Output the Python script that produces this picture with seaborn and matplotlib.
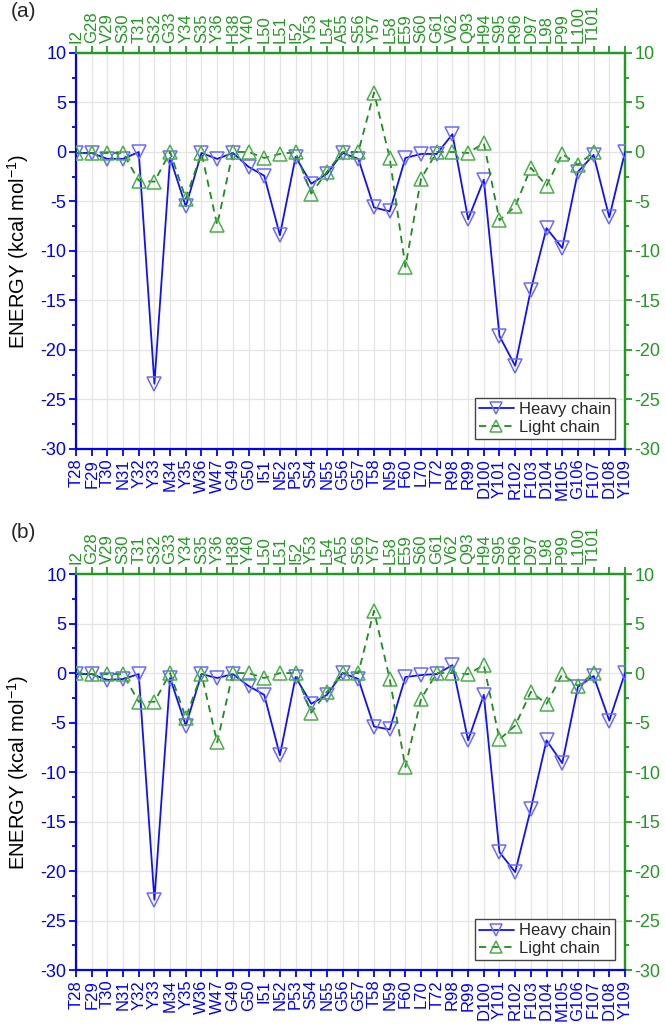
import matplotlib
matplotlib.use('Agg')
import matplotlib.pyplot as plt
import seaborn as sns
import pandas as pd
from matplotlib.ticker import MultipleLocator

# residue names (heavy chain on bottom axis, light chain on top axis)
heavy_res = ['T28', 'F29', 'T30', 'N31', 'Y32', 'Y33', 'M34', 'Y35', 'W36', 'W47',
             'G49', 'G50', 'I51', 'N52', 'P53', 'S54', 'N55', 'G56', 'G57', 'T58',
             'N59', 'F60', 'L70', 'T72', 'R98', 'R99', 'D100', 'Y101', 'R102', 'F103',
             'D104', 'M105', 'G106', 'F107', 'D108', 'Y109']
light_res = ['I2', 'G28', 'V29', 'S30', 'T31', 'S32', 'G33', 'Y34', 'S35', 'Y36',
             'H38', 'Y40', 'L50', 'L51', 'I52', 'Y53', 'L54', 'A55', 'S56', 'Y57',
             'L58', 'E59', 'S60', 'G61', 'V62', 'Q93', 'H94', 'S95', 'R96', 'D97',
             'L98', 'P99', 'L100', 'T101']

# panel (a) energies, kcal/mol
heavy_a = [-0.1, -0.1, -0.7, -0.7, 0.0, -23.4, -0.6, -5.5, -0.1, -0.7,
           -0.1, -1.5, -2.4, -8.4, -0.5, -3.2, -2.2, -0.1, -0.7, -5.6,
           -6.0, -0.6, -0.2, -0.2, 1.8, -6.8, -2.8, -18.6, -21.6, -13.9,
           -7.7, -9.7, -2.0, -0.3, -6.6, 0.0]
light_a = [-0.1, -0.1, -0.1, -0.1, -2.9, -3.0, 0.0, -4.7, -0.1, -7.4,
           0.0, 0.0, -0.6, -0.2, 0.0, -4.2, -2.0, 0.0, 0.0, 6.0,
           -0.6, -11.6, -2.7, 0.0, 0.0, -0.1, 0.9, -6.9, -5.5, -1.6,
           -3.4, -0.2, -1.3, 0.0]

# panel (b) energies, kcal/mol
heavy_b = [-0.1, -0.1, -0.7, -0.6, -0.1, -22.9, -0.5, -5.3, -0.1, -0.5,
           -0.1, -1.3, -2.2, -8.3, -0.4, -3.1, -2.2, 0.0, -0.6, -5.4,
           -5.7, -0.4, -0.2, -0.1, 0.8, -6.8, -2.2, -18.1, -20.1, -13.7,
           -6.8, -9.1, -1.4, -0.3, -4.8, 0.0]
light_b = [0.0, -0.1, -0.1, -0.1, -2.9, -2.9, 0.0, -4.5, -0.1, -7.0,
           0.0, 0.0, -0.5, 0.0, 0.0, -4.0, -1.9, 0.0, 0.0, 6.3,
           -0.6, -9.5, -2.6, 0.0, 0.0, -0.1, 0.8, -6.7, -5.3, -1.9,
           -3.1, -0.1, -1.3, 0.0]

BLUE = '#0000ff'
GREEN = '#229922'

sns.set_style('white')
plt.rcParams['font.family'] = ['Liberation Sans', 'DejaVu Sans']
plt.rcParams['mathtext.fontset'] = 'custom'
plt.rcParams['mathtext.rm'] = 'Liberation Sans'
plt.rcParams['axes.unicode_minus'] = False


def draw_panel(ax, heavy, light, tag):
    hdf = pd.DataFrame({'pos': range(len(heavy)), 'energy': heavy})
    ldf = pd.DataFrame({'pos': range(len(light)), 'energy': light})

    sns.lineplot(data=hdf, x='pos', y='energy', ax=ax, color='#1010ff', lw=1.3,
                 marker='v', markersize=9.5, mfc='none', mec='#6a6aff', mew=1.1,
                 label='Heavy chain', zorder=3)
    sns.lineplot(data=ldf, x='pos', y='energy', ax=ax, color='#1e8c1e', lw=1.3,
                 linestyle=(0, (4, 3)), marker='^', markersize=9.5, mfc='none',
                 mec='#4caf4c', mew=1.1, label='Light chain', zorder=3)

    n = len(heavy_res)
    ax.set_xlim(0, n - 1)
    ax.set_ylim(-30, 10)
    ax.set_xticks(range(n))
    ax.set_xticklabels(heavy_res, rotation=90, color=BLUE, fontsize=12)
    ax.yaxis.set_major_locator(MultipleLocator(5))
    ax.yaxis.set_minor_locator(MultipleLocator(2.5))
    ax.tick_params(axis='y', which='major', colors=BLUE, labelsize=13,
                   direction='out', length=5, width=1.3, left=True, pad=2)
    ax.tick_params(axis='y', which='minor', colors=BLUE, direction='out',
                   length=3, width=1.3, left=True)
    ax.tick_params(axis='x', which='major', colors=BLUE, direction='out',
                   length=5, width=1.3, bottom=True, pad=2)
    ax.set_xlabel('')
    ax.set_ylabel('ENERGY (kcal mol$^{-1}$)', fontsize=14.5, color='black')
    ax.yaxis.set_label_coords(-0.082, 0.5)

    ax.grid(True, which='major', color='#e4e4e4', lw=0.9)
    ax.set_axisbelow(True)

    ax.spines['left'].set_color(BLUE)
    ax.spines['bottom'].set_color(BLUE)
    ax.spines['top'].set_color(GREEN)
    ax.spines['right'].set_color(GREEN)
    for s in ax.spines.values():
        s.set_linewidth(1.6)

    # top axis: light chain residues, two extra unlabeled ticks at the end
    top = ax.secondary_xaxis('top')
    top.set_xticks(range(len(light_res)))
    top.set_xticklabels(light_res, rotation=90, color=GREEN, fontsize=12)
    top.set_xticks(range(len(light_res), n), minor=True)
    top.tick_params(axis='x', which='both', colors=GREEN, direction='out',
                    length=5, width=1.3, pad=2)
    top.spines['top'].set_color(GREEN)
    top.spines['top'].set_linewidth(1.6)

    # right axis, same energy scale
    right = ax.secondary_yaxis('right')
    right.yaxis.set_major_locator(MultipleLocator(5))
    right.yaxis.set_minor_locator(MultipleLocator(2.5))
    right.tick_params(axis='y', which='major', colors=GREEN, labelsize=13,
                      direction='out', length=5, width=1.3, pad=2)
    right.tick_params(axis='y', which='minor', colors=GREEN, direction='out',
                      length=3, width=1.3)
    right.spines['right'].set_color(GREEN)
    right.spines['right'].set_linewidth(1.6)

    leg = ax.legend(loc='lower right', fontsize=12, fancybox=False,
                    framealpha=1, edgecolor='#444444', borderpad=0.25,
                    handlelength=2.1, handletextpad=0.3, labelspacing=0.15,
                    borderaxespad=0.6, markerscale=0.85)
    leg.get_frame().set_linewidth(1.0)

    ax.figure.text(0.016, ax.get_position().y1 + 0.0405, tag,
                   fontsize=15, va='center', ha='left')


fig = plt.figure(figsize=(6.66, 10.29), dpi=100)
ax_a = fig.add_axes([0.1141, 0.5637, 0.8243, 0.3848])
ax_b = fig.add_axes([0.1141, 0.0573, 0.8243, 0.3848])

draw_panel(ax_a, heavy_a, light_a, '(a)')
draw_panel(ax_b, heavy_b, light_b, '(b)')

fig.savefig('out.png', dpi=100)
